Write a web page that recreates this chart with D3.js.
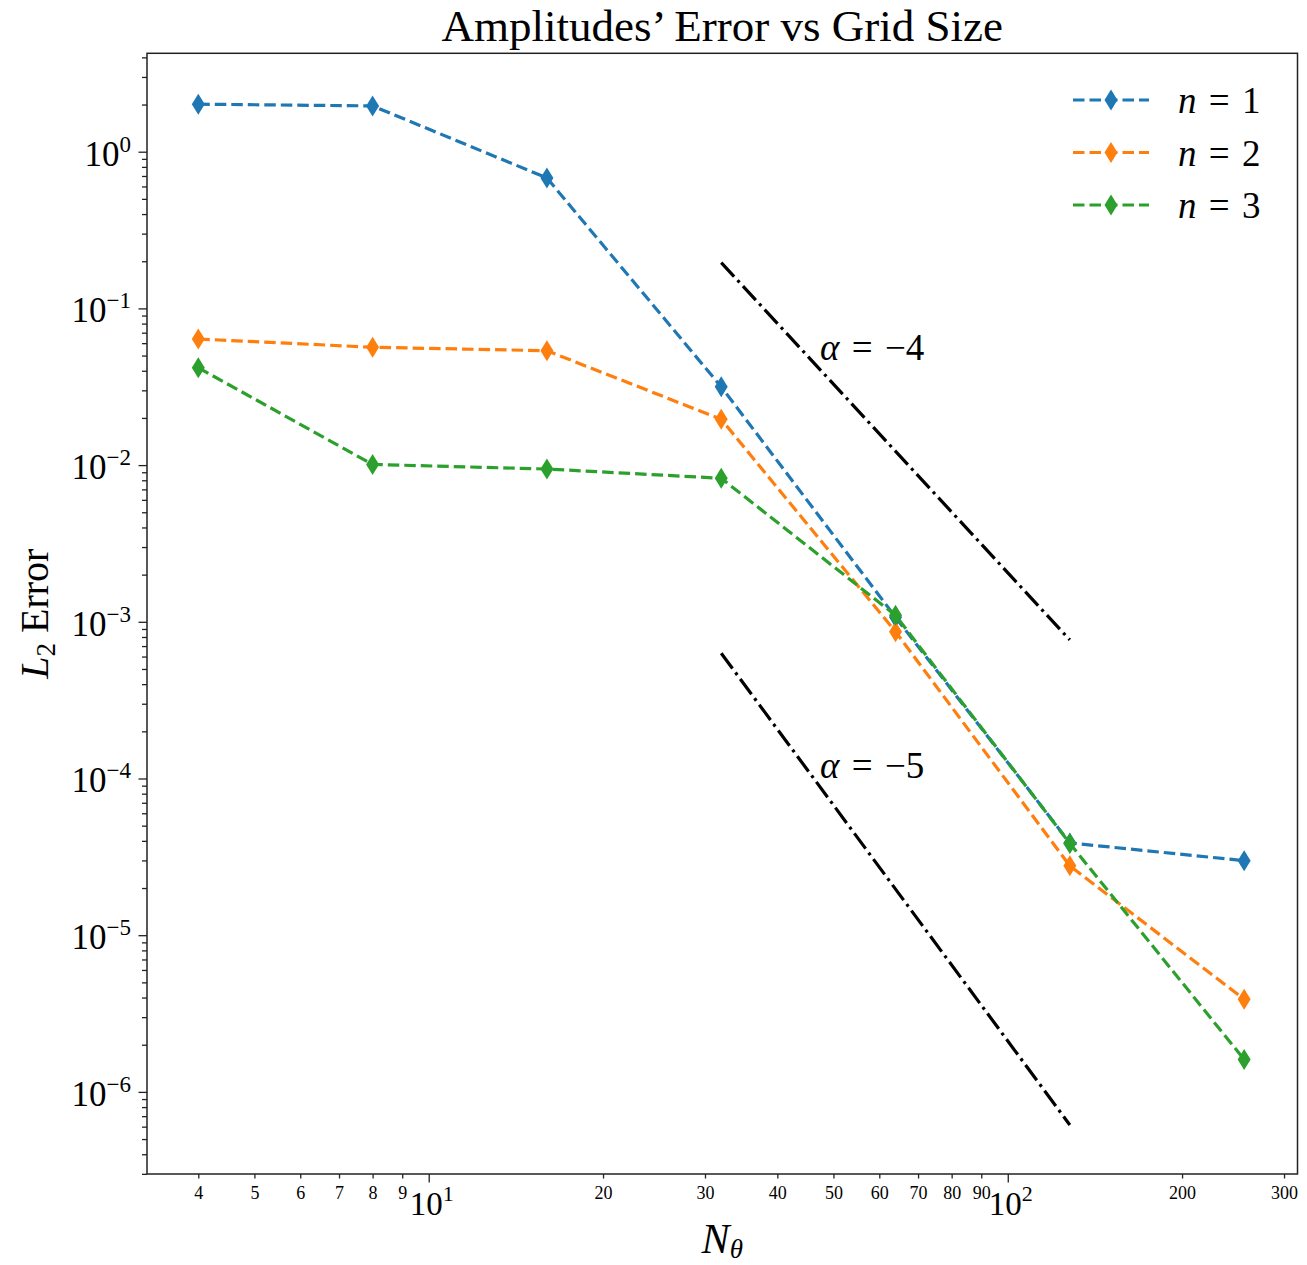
<!DOCTYPE html>
<html>
<head>
<meta charset="utf-8">
<script src="https://cdn.jsdelivr.net/npm/d3@7"></script>
<style>
body{margin:0;background:#fff;}
text{font-family:"Liberation Serif","DejaVu Serif",serif;fill:#000;}
</style>
</head>
<body>
<div id="root"></div>
<script>
// grid sizes and errors
const gridN = [4, 8, 16, 32, 64, 128, 256];
const errN1 = [2.01, 1.96, 0.68, 0.0316, 0.00107, 3.88e-5, 2.99e-5];
const errN2 = [0.0638, 0.0565, 0.0537, 0.0196, 8.65e-4, 2.77e-5, 3.90e-6];
const errN3 = [0.0418, 0.0101, 0.00944, 0.00824, 0.0011, 3.85e-5, 1.61e-6];
const seriesLabels = ['1', '2', '3'];
const seriesColors = ['#1f77b4', '#ff7f0e', '#2ca02c'];

// slope reference lines
const refN = [32, 128];
const refAlpha4 = [0.196, 7.66e-4];
const refAlpha5 = [6.3e-4, 6.15e-7];
const refLabels = ['\u22124', '\u22125'];
const refLabelN = 47.4;
const refLabelErr = [0.047, 1.0e-4];

const xMajorTicks = [10, 100];
const xMajorExp = ['1', '2'];
const yMajorTicks = [1, 1e-1, 1e-2, 1e-3, 1e-4, 1e-5, 1e-6];
const yMajorExp = ['0', '\u22121', '\u22122', '\u22123', '\u22124', '\u22125', '\u22126'];

let width = 1307, height = 1265;
let plot = {left: 147, right: 1297.5, top: 53.3, bottom: 1174};
const sp = '\u2004'; // math-ish spacing around '='

var svg = d3.select('#root').append('svg')
	.attr('width', width)
	.attr('height', height);

var x = d3.scaleLog()
	.domain([3.262, 316.5])
	.range([plot.left, plot.right]);
var y = d3.scaleLog()
	.domain([Math.pow(10, -6.524), Math.pow(10, 0.628)])
	.range([plot.bottom, plot.top]);

// minor ticks come from the log scale itself
var xMinor = x.ticks().filter(d => xMajorTicks.indexOf(d) < 0);
var yMinor = y.ticks().filter(d => Math.abs(Math.log10(d) - Math.round(Math.log10(d))) > 1e-6);

// x axis
svg.append('g')
	.attr('transform', 'translate(0,' + plot.bottom + ')')
	.call(d3.axisBottom(x).tickValues(xMinor).tickSize(4.5).tickPadding(8)
		.tickFormat(d3.format('d')))
	.call(g => g.select('.domain').remove())
	.call(g => g.selectAll('line').attr('stroke', '#222').attr('stroke-width', 1.3))
	.call(g => g.selectAll('text').attr('font-size', 18).attr('font-family', null));

svg.append('g')
	.attr('transform', 'translate(0,' + plot.bottom + ')')
	.call(d3.axisBottom(x).tickValues(xMajorTicks).tickSize(8.5).tickFormat(''))
	.call(g => g.select('.domain').remove())
	.call(g => g.selectAll('line').attr('stroke', '#222').attr('stroke-width', 1.3));

xMajorTicks.forEach((v, i) => {
	var t = svg.append('text')
		.attr('x', x(v) + 3)
		.attr('y', 1215)
		.attr('text-anchor', 'middle')
		.attr('font-size', 33);
	t.append('tspan').text('10');
	t.append('tspan').attr('font-size', 22).attr('dy', -14).text(xMajorExp[i]);
});

// y axis
svg.append('g')
	.attr('transform', 'translate(' + plot.left + ',0)')
	.call(d3.axisLeft(y).tickValues(yMinor).tickSize(5).tickFormat(''))
	.call(g => g.select('.domain').remove())
	.call(g => g.selectAll('line').attr('stroke', '#222').attr('stroke-width', 1.3));

svg.append('g')
	.attr('transform', 'translate(' + plot.left + ',0)')
	.call(d3.axisLeft(y).tickValues(yMajorTicks).tickSize(8.5).tickFormat(''))
	.call(g => g.select('.domain').remove())
	.call(g => g.selectAll('line').attr('stroke', '#222').attr('stroke-width', 1.3));

yMajorTicks.forEach((v, i) => {
	var t = svg.append('text')
		.attr('x', 131)
		.attr('y', y(v) + 14)
		.attr('text-anchor', 'end')
		.attr('font-size', 35);
	t.append('tspan').text('10');
	t.append('tspan').attr('font-size', 23).attr('dy', -14).text(yMajorExp[i]);
});

// frame
svg.append('rect')
	.attr('x', plot.left)
	.attr('y', plot.top)
	.attr('width', plot.right - plot.left)
	.attr('height', plot.bottom - plot.top)
	.attr('fill', 'none')
	.attr('stroke', '#222')
	.attr('stroke-width', 1.5);

// reference slope lines
var refLine = d3.line().x(d => x(d[0])).y(d => y(d[1]));
[refAlpha4, refAlpha5].forEach(vals => {
	svg.append('path')
		.datum(refN.map((n, i) => [n, vals[i]]))
		.attr('d', refLine)
		.attr('fill', 'none')
		.attr('stroke', '#000')
		.attr('stroke-width', 3.2)
		.attr('stroke-dasharray', '19,5,3,5');
});

refLabels.forEach((lab, i) => {
	var t = svg.append('text')
		.attr('x', x(refLabelN))
		.attr('y', y(refLabelErr[i]))
		.attr('font-size', 37);
	t.append('tspan').attr('font-style', 'italic').text('\u03b1');
	t.append('tspan').text(sp + '=' + sp + lab);
});

// data series
var errSeries = [errN1, errN2, errN3];
var line = d3.line().x(d => x(d[0])).y(d => y(d[1]));
var diamond = 'M0,-10.5L6.5,0L0,10.5L-6.5,0Z';

errSeries.forEach((vals, k) => {
	var pts = gridN.map((n, i) => [n, vals[i]]);
	svg.append('path')
		.datum(pts)
		.attr('d', line)
		.attr('fill', 'none')
		.attr('stroke', seriesColors[k])
		.attr('stroke-width', 3.2)
		.attr('stroke-dasharray', '11.5,5');
	svg.append('g').selectAll('path')
		.data(pts)
		.enter()
		.append('path')
		.attr('d', diamond)
		.attr('transform', d => 'translate(' + x(d[0]) + ',' + y(d[1]) + ')')
		.attr('fill', seriesColors[k]);
});

// legend
var legend = svg.append('g');
seriesLabels.forEach((lab, k) => {
	var yy = 100 + k * 52.5;
	legend.append('line')
		.attr('x1', 1073).attr('x2', 1149)
		.attr('y1', yy).attr('y2', yy)
		.attr('stroke', seriesColors[k])
		.attr('stroke-width', 3.2)
		.attr('stroke-dasharray', '11.5,5');
	legend.append('path')
		.attr('d', diamond)
		.attr('transform', 'translate(1111,' + yy + ')')
		.attr('fill', seriesColors[k]);
	var t = legend.append('text')
		.attr('x', 1178)
		.attr('y', yy + 13)
		.attr('font-size', 37);
	t.append('tspan').attr('font-style', 'italic').text('n');
	t.append('tspan').text(sp + '=' + sp + lab);
});

// title and axis labels
svg.append('text')
	.attr('x', (plot.left + plot.right) / 2)
	.attr('y', 41)
	.attr('text-anchor', 'middle')
	.attr('font-size', 45)
	.text('Amplitudes\u2019 Error vs Grid Size');

var xl = svg.append('text')
	.attr('x', (plot.left + plot.right) / 2)
	.attr('y', 1253)
	.attr('text-anchor', 'middle')
	.attr('font-size', 42);
xl.append('tspan').attr('font-style', 'italic').text('N');
xl.append('tspan').attr('font-style', 'italic').attr('font-size', 27).attr('dy', 5).text('\u03b8');

var yl = svg.append('text')
	.attr('transform', 'translate(48,' + ((plot.top + plot.bottom) / 2) + ') rotate(-90)')
	.attr('text-anchor', 'middle')
	.attr('font-size', 40);
yl.append('tspan').attr('font-style', 'italic').text('L');
yl.append('tspan').attr('font-size', 27).attr('dy', 7).text('2');
yl.append('tspan').attr('dy', -7).text(' Error');
</script>
</body>
</html>
